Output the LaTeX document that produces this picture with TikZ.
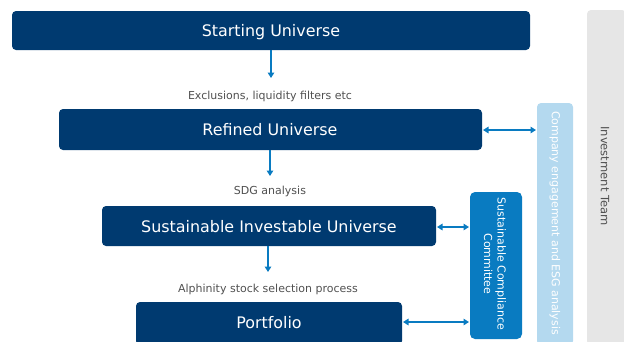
\documentclass[tikz,border=0pt]{standalone}
\usepackage{fontspec}
\setmainfont{DejaVu Sans}
\usetikzlibrary{arrows.meta}
\definecolor{navy}{RGB}{0,58,112}
\definecolor{midblue}{RGB}{9,123,193}
\definecolor{lightblue}{RGB}{180,217,239}
\definecolor{greybar}{RGB}{230,230,230}
\definecolor{greytext}{RGB}{80,80,80}
\tikzset{
  stage/.style={fill=navy, rounded corners=4pt, draw=none},
  stagetext/.style={text=white, font=\fontsize{15.9}{18}\selectfont},
  note/.style={text=greytext, font=\fontsize{11}{13}\selectfont},
  sidetext/.style={rotate=-90, font=\fontsize{11.5}{13}\selectfont},
  flow/.style={draw=midblue, line width=1.4pt, -{Triangle[width=6.5pt,length=5.5pt]}},
  link/.style={draw=midblue, line width=1.4pt, {Triangle[width=6.5pt,length=5.5pt]}-{Triangle[width=6.5pt,length=5.5pt]}, shorten <=1pt, shorten >=1pt},
}
\begin{document}
\begin{tikzpicture}[x=1pt,y=-1pt]
\useasboundingbox (0,0) rectangle (624,341);
% side bars
\fill[greybar, rounded corners=4pt] (587,10) rectangle (626,345);
\node[sidetext, text=greytext] (team) at (605,176) {Investment Team};
\fill[lightblue, rounded corners=4pt] (537,103) rectangle (573,345);
\node[sidetext, text=white, font=\fontsize{11}{13}\selectfont] (ceng) at (555,223) {Company engagement and ESG analysis};
\coordinate (cengL) at (537,130);
\fill[midblue, rounded corners=5pt] (470,192) rectangle (522,339);
\node[sidetext, text=white, align=center, font=\fontsize{11}{13.5}\selectfont] (scc) at (495,264) {Sustainable Compliance\\Committee};
\coordinate (sccA) at (470,227);
\coordinate (sccB) at (470,322);
% stages
\fill[stage] (12,11) rectangle (530,50);
\node[stagetext] (start) at (271,32) {Starting Universe};
\coordinate (startB) at (271,50);
\fill[stage] (59,109) rectangle (482,150);
\node[stagetext] (refined) at (270,130) {Refined Universe};
\coordinate (refT) at (271,78);
\coordinate (refB) at (270,150);
\coordinate (refR) at (482,130);
\fill[stage] (102,206) rectangle (436,246);
\node[stagetext] (siu) at (269,227) {Sustainable Investable Universe};
\coordinate (siuT) at (270,176);
\coordinate (siuB) at (268,246);
\coordinate (siuR) at (436,227);
\fill[stage] (136,302) rectangle (402,345);
\node[stagetext] (port) at (269,323) {Portfolio};
\coordinate (portT) at (268,272);
\coordinate (portR) at (402,322);
% notes
\node[note] (n1) at (270,96) {Exclusions, liquidity filters etc};
\node[note] (n2) at (270,191) {SDG analysis};
\node[note] (n3) at (268,289) {Alphinity stock selection process};
% arrows
\draw[flow] (startB) -- (refT);
\draw[flow] (refB) -- (siuT);
\draw[flow] (siuB) -- (portT);
\draw[link] (refR) -- (cengL);
\draw[link] (siuR) -- (sccA);
\draw[link] (portR) -- (sccB);
\end{tikzpicture}
\end{document}
